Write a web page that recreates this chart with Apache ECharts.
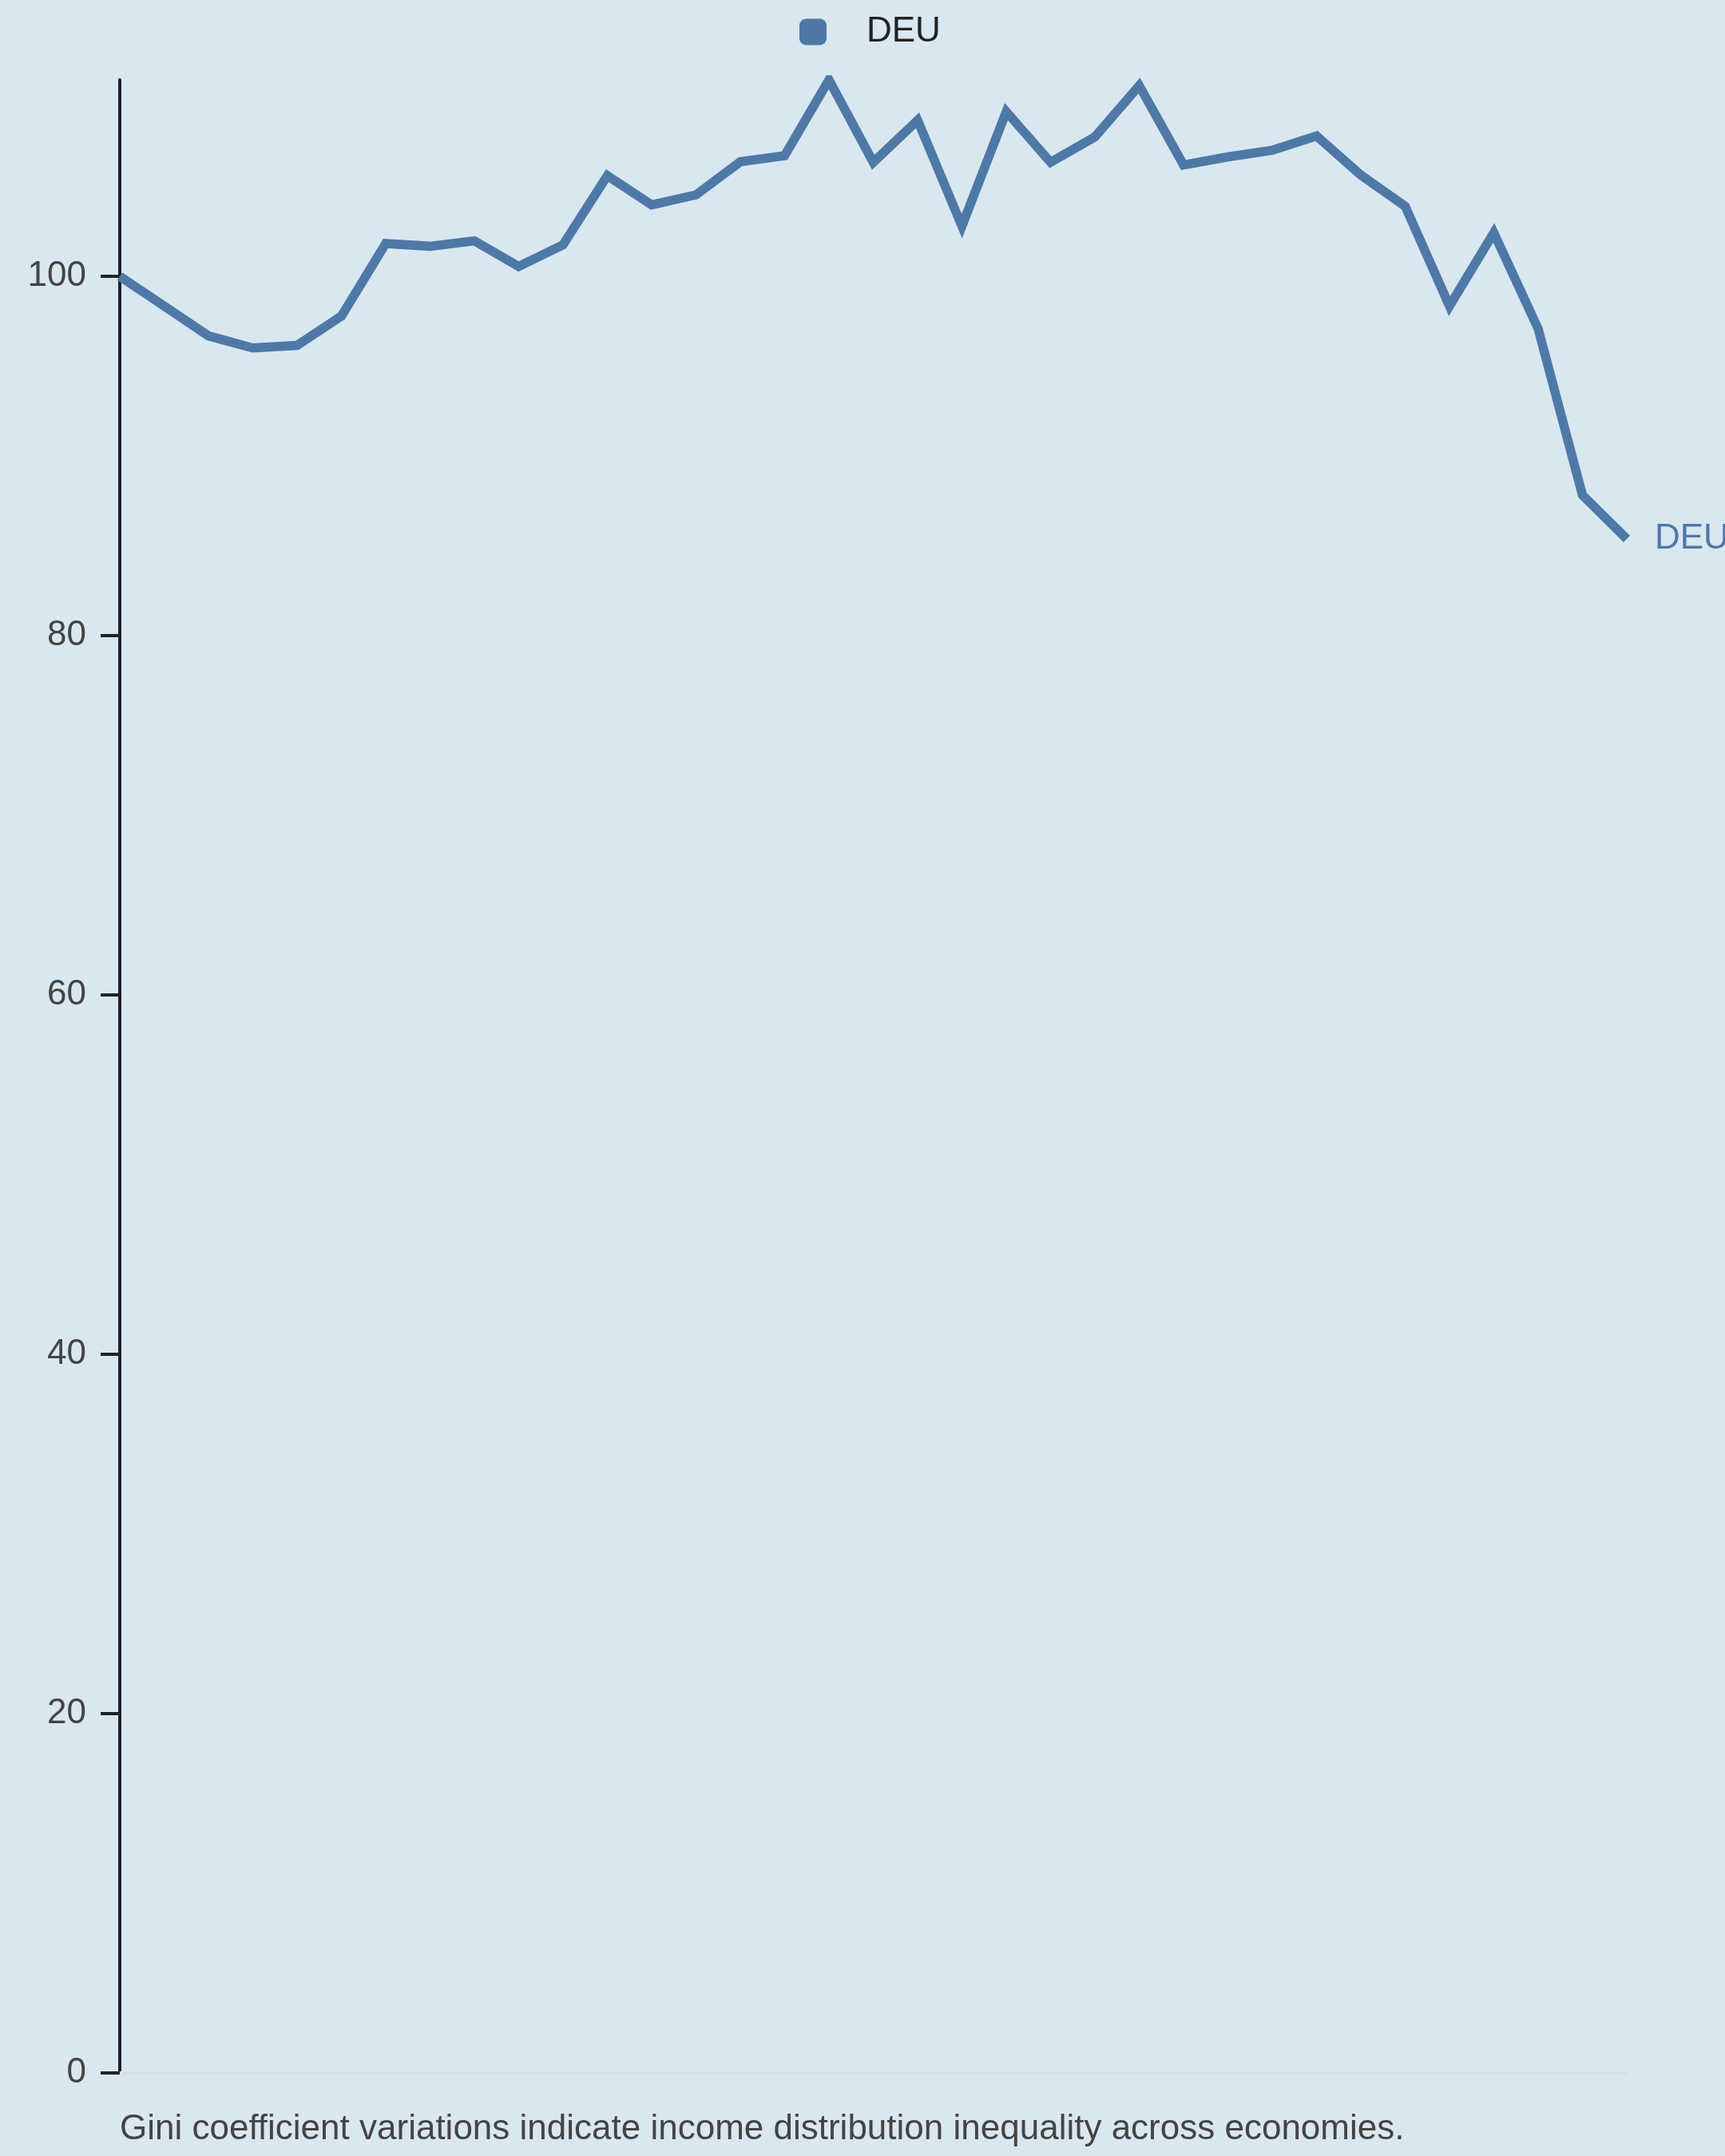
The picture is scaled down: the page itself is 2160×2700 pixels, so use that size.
<!DOCTYPE html>
<html>
<head>
<meta charset="utf-8">
<style>
  html, body { margin: 0; padding: 0; background: #d9e7f0; }
  #chart { width: 2160px; height: 2700px; }
</style>
<script src="https://cdn.jsdelivr.net/npm/echarts@6/dist/echarts.min.js"></script>
</head>
<body>
<div id="chart"></div>
<script>
const years = [
  '1990','1991','1992','1993','1994','1995','1996','1997','1998','1999',
  '2000','2001','2002','2003','2004','2005','2006','2007','2008','2009',
  '2010','2011','2012','2013','2014','2015','2016','2017','2018','2019',
  '2020','2021','2022','2023','2024'
];
const seriesName = 'DEU';
const deuValues = [
  100.0, 98.34, 96.68, 96.01, 96.15, 97.78, 101.82, 101.67, 101.97, 100.54,
  101.75, 105.60, 103.97, 104.53, 106.37, 106.71, 110.93, 106.34, 108.68, 102.79,
  109.16, 106.34, 107.75, 110.61, 106.19, 106.64, 107.01, 107.81, 105.63, 103.90,
  98.34, 102.42, 97.08, 87.82, 85.38
];
const yTickValues = [0, 20, 40, 60, 80, 100];
const caption = 'Gini coefficient variations indicate income distribution inequality across economies.';

const FONT = '"Liberation Sans", Arial, sans-serif';
const chart = echarts.init(document.getElementById('chart'), null, { renderer: 'canvas' });
chart.setOption({
  backgroundColor: '#d9e7f0',
  animation: false,
  grid: { left: 150, right: 123, top: 100, bottom: 104, containLabel: false },
  legend: {
    data: [seriesName],
    left: 996,
    top: 13,
    itemWidth: 34,
    itemHeight: 33,
    icon: 'roundRect',
    textStyle: { fontFamily: FONT, fontSize: 44, color: '#222222', padding: [0, 0, 0, 45] }
  },
  xAxis: {
    type: 'category',
    data: years,
    boundaryGap: false,
    axisLine: { show: true, lineStyle: { color: '#dcdfe3', width: 4 } },
    axisTick: { show: false },
    axisLabel: { show: false },
    splitLine: { show: false }
  },
  yAxis: {
    type: 'value',
    min: 0,
    max: 'dataMax',
    interval: 20,
    axisLine: { show: true, lineStyle: { color: '#1f2328', width: 4 } },
    axisTick: { show: true, length: 24, customValues: yTickValues, lineStyle: { color: '#1f2328', width: 4 } },
    axisLabel: { fontFamily: FONT, fontSize: 44, color: '#444444', margin: 42, customValues: yTickValues },
    splitLine: { show: false }
  },
  series: [{
    name: seriesName,
    type: 'line',
    data: deuValues,
    symbol: 'none',
    lineStyle: { color: '#4e79a7', width: 11.5, join: 'miter', miterLimit: 10, cap: 'butt' },
    itemStyle: { color: '#4e79a7' },
    endLabel: {
      show: true,
      formatter: '{a}',
      distance: 35,
      fontFamily: FONT,
      fontSize: 44,
      color: '#4e79a7'
    }
  }],
  graphic: [{
    type: 'text',
    left: 150,
    top: 2645,
    style: { text: caption, fontFamily: FONT, fontSize: 44, fill: '#444444' }
  }]
});
</script>
</body>
</html>
